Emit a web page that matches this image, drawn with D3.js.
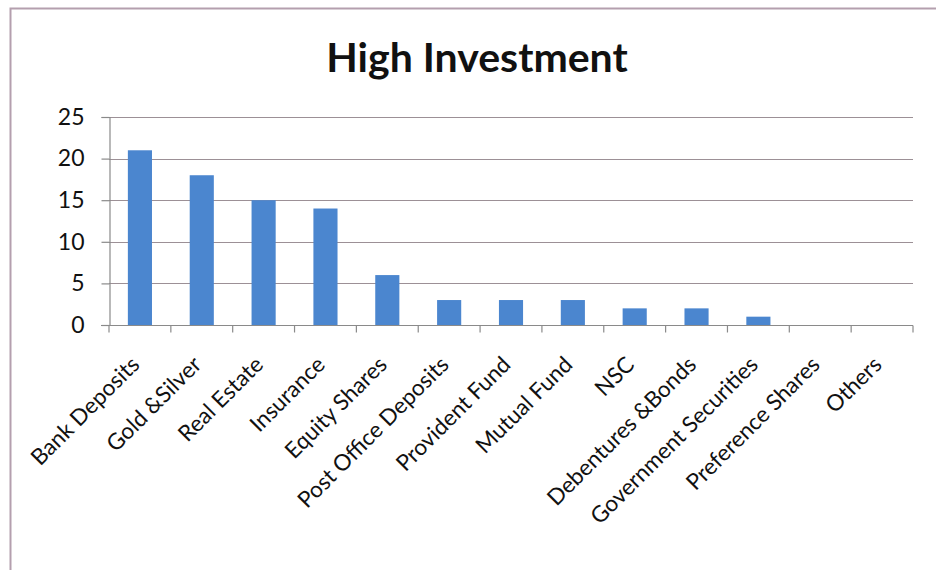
<!DOCTYPE html>
<html>
<head>
<meta charset="utf-8">
<script src="https://cdn.jsdelivr.net/npm/d3@7"></script>
<style>
  html, body { margin: 0; padding: 0; background: #fff; }
  svg { display: block; }
  text { font-family: Lato, "Open Sans", sans-serif; fill: #111; }
</style>
</head>
<body>
<svg id="chart" width="936" height="570"></svg>
<script>
// Investment avenues and number of respondents choosing each as a high investment
const categories = [
  "Bank Deposits", "Gold &Silver", "Real Estate", "Insurance", "Equity Shares",
  "Post Office Deposits", "Provident Fund", "Mutual Fund", "NSC",
  "Debentures &Bonds", "Government Securities", "Preference Shares", "Others"
];
const values = [21, 18, 15, 14, 6, 3, 3, 3, 2, 2, 1, 0, 0];
const yTicks = [0, 5, 10, 15, 20, 25];
const title = "High Investment";

const svg = d3.select("#chart");
const plot = { left: 109, right: 913, top: 117, bottom: 325 };

// Frame of the chart area (left and top edges)
svg.append("path")
  .attr("d", `M10.5,570 L10.5,8.5 L936,8.5`)
  .attr("fill", "none")
  .attr("stroke", "#b49fae")
  .attr("stroke-width", 2);

svg.append("text")
  .attr("x", 477)
  .attr("y", 72)
  .attr("text-anchor", "middle")
  .style("font-size", "41px")
  .style("font-weight", "bold")
  .text(title);

const x = d3.scaleBand()
  .domain(categories)
  .range([plot.left, plot.right])
  .paddingInner(0.61)
  .paddingOuter(0.305);

const y = d3.scaleLinear()
  .domain([0, 25])
  .range([plot.bottom, plot.top]);

// Horizontal gridlines
svg.append("g")
  .selectAll("line")
  .data(yTicks.filter(d => d > 0))
  .join("line")
  .attr("x1", plot.left)
  .attr("x2", plot.right)
  .attr("y1", d => Math.round(y(d)) + 0.5)
  .attr("y2", d => Math.round(y(d)) + 0.5)
  .attr("stroke", "#9c9096")
  .attr("stroke-width", 1.2);

// Y axis
const yAxis = svg.append("g")
  .attr("transform", `translate(${plot.left + 0.5},0)`)
  .call(d3.axisLeft(y).tickValues(yTicks).tickSize(8).tickPadding(17));
yAxis.selectAll("path, line").attr("stroke", "#8a8a8a").attr("stroke-width", 1.2);
yAxis.selectAll("text").style("font-size", "23px").attr("fill", "#111");

// Bars
svg.append("g")
  .selectAll("rect")
  .data(values)
  .join("rect")
  .attr("x", (d, i) => x(categories[i]))
  .attr("width", x.bandwidth())
  .attr("y", d => y(d))
  .attr("height", d => y(0) - y(d))
  .attr("fill", "#4b86cf");

// X axis with ticks at category boundaries
const xAxisG = svg.append("g")
  .attr("transform", `translate(0,${Math.round(y(0)) + 0.5})`);
xAxisG.append("line")
  .attr("x1", plot.left - 8).attr("x2", plot.right)
  .attr("stroke", "#8a8a8a").attr("stroke-width", 1.2);
const step = x.step();
xAxisG.selectAll("line.tick")
  .data(d3.range(categories.length + 1))
  .join("line")
  .attr("class", "tick")
  .attr("x1", i => plot.left + i * step)
  .attr("x2", i => plot.left + i * step)
  .attr("y1", 0).attr("y2", 7)
  .attr("stroke", "#8a8a8a").attr("stroke-width", 1.2);

// Rotated category labels
svg.append("g")
  .selectAll("text")
  .data(categories)
  .join("text")
  .attr("text-anchor", "end")
  .attr("transform", d => `translate(${x(d) + x.bandwidth() / 2 + 1},${plot.bottom + 41}) rotate(-45)`)
  .style("font-size", "22.5px")
  .text(d => d);
</script>
</body>
</html>
